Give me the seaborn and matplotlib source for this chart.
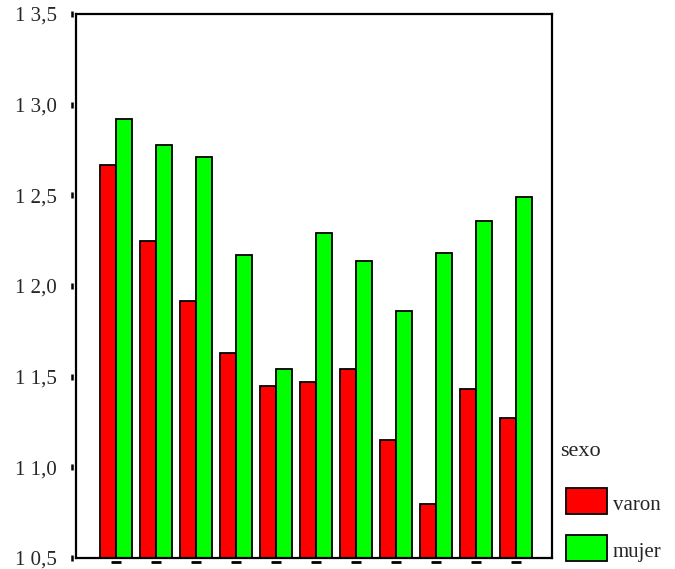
import numpy as np
import pandas as pd
import matplotlib
matplotlib.use("Agg")
import matplotlib.pyplot as plt
import matplotlib.transforms as mtransforms
from matplotlib.patches import Rectangle
import seaborn as sns

# data (11 groups, no category labels shown)
grupos = ["1", "2", "3", "4", "5", "6", "7", "8", "9", "10", "11"]
varon = [12.67, 12.25, 11.92, 11.63, 11.45, 11.47, 11.54, 11.15, 10.80, 11.43, 11.27]
mujer = [12.92, 12.78, 12.71, 12.17, 11.54, 12.29, 12.14, 11.86, 12.18, 12.36, 12.49]
sexos = ["varon", "mujer"]
colores = ["#ff0000", "#00ff00"]
yticks = [10.5, 11.0, 11.5, 12.0, 12.5, 13.0, 13.5]
ytick_labels = ["1 0,5", "1 1,0", "1 1,5", "1 2,0", "1 2,5", "1 3,0", "1 3,5"]

df = pd.DataFrame({
    "grupo": grupos * 2,
    "sexo": ["varon"] * len(grupos) + ["mujer"] * len(grupos),
    "valor": varon + mujer,
})

sns.set_style("white")
plt.rcParams["font.family"] = ["Liberation Serif", "DejaVu Serif"]

fig = plt.figure(figsize=(6.75, 5.69), dpi=100)
ax = fig.add_axes([76 / 675, 1 - 558 / 569, 476 / 675, 544 / 569])

sns.barplot(data=df, x="grupo", y="valor", hue="sexo", hue_order=sexos,
            palette=dict(zip(sexos, colores)), width=0.8, saturation=1,
            edgecolor="black", linewidth=1.3, errorbar=None, ax=ax)
ax.legend_.remove()

ax.set_ylim(10.5, 13.5)
ax.set_xlim(-1.0, 10.9)
ax.set_xlabel("")
ax.set_ylabel("")
ax.set_yticks(yticks)
ax.set_yticklabels(ytick_labels, fontsize=15)
ax.tick_params(axis="y", length=0, pad=14)
ax.set_xticks(range(len(grupos)))
ax.set_xticklabels([""] * len(grupos))
ax.tick_params(axis="x", length=0)
for s in ax.spines.values():
    s.set_color("black")
    s.set_linewidth(1.6)

# small SPSS style tick marks, detached from the axis
ty = mtransforms.blended_transform_factory(ax.transAxes, ax.transData)
ax.scatter([-0.009] * len(yticks), yticks, marker="|", s=18, linewidths=1.8,
           color="black", transform=ty, clip_on=False)
tx = mtransforms.blended_transform_factory(ax.transData, ax.transAxes)
ax.scatter(range(len(grupos)), [-0.008] * len(grupos), marker="_", s=50,
           linewidths=2.0, color="black", transform=tx, clip_on=False)

# legend drawn by hand to match the layout
fig.text(560 / 675, 1 - 452 / 569, "sexo", fontsize=16, va="center", ha="left")
box_y = [488, 535]
for lab, col, y0 in zip(sexos, colores, box_y):
    fig.patches.append(Rectangle((566 / 675, 1 - (y0 + 26) / 569), 41 / 675, 26 / 569,
                                 transform=fig.transFigure, facecolor=col,
                                 edgecolor="black", linewidth=1.3))
    fig.text(613 / 675, 1 - (y0 + 18) / 569, lab, fontsize=15, va="center", ha="left")

fig.savefig("out.png", dpi=100)
